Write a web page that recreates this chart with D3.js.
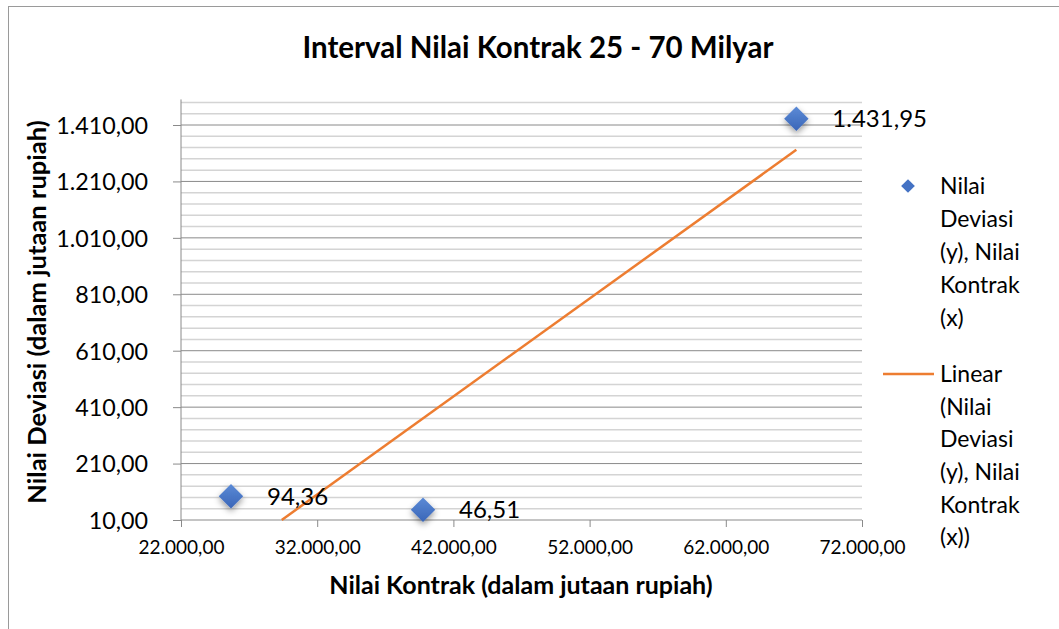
<!DOCTYPE html>
<html>
<head>
<meta charset="utf-8">
<script src="https://cdn.jsdelivr.net/npm/d3@7"></script>
<style>
  body { margin: 0; background: #fff; }
  svg { display: block; font-family: Lato, "Open Sans", sans-serif; }
</style>
</head>
<body>
<svg width="1059" height="629"></svg>
<script>
// values
var kontrak = [25670, 39770, 67180];       // x, juta rupiah
var deviasi = [94.36, 46.51, 1431.95];     // y, juta rupiah
var xTicks = [22000, 32000, 42000, 52000, 62000, 72000];
var yTicks = [10, 210, 410, 610, 810, 1010, 1210, 1410];
var yMinor = d3.range(10, 1491, 40);
var legendSeries = ["Nilai", "Deviasi", "(y), Nilai", "Kontrak", "(x)"];
var legendTrend = ["Linear", "(Nilai", "Deviasi", "(y), Nilai", "Kontrak", "(x))"];

var id = d3.formatLocale({decimal: ",", thousands: ".", grouping: [3], currency: ["Rp", ""]});
var fmt = id.format(",.2f");

var svg = d3.select("svg");

var x = d3.scaleLinear().domain([22000, 72000]).range([181, 862]);
var y = d3.scaleLinear().domain([10, 1410]).range([520, 125]);
var yTop = y(1490);

var defs = svg.append("defs");
var f = defs.append("filter").attr("id", "shadow").attr("x", "-50%").attr("y", "-50%").attr("width", "200%").attr("height", "200%");
f.append("feDropShadow").attr("dx", 0).attr("dy", 3).attr("stdDeviation", 3)
  .attr("flood-color", "#000").attr("flood-opacity", 0.4);
var grad = defs.append("linearGradient").attr("id", "dia").attr("x1", 0).attr("y1", 0).attr("x2", 0).attr("y2", 1);
grad.append("stop").attr("offset", "0%").attr("stop-color", "#5b8ad6");
grad.append("stop").attr("offset", "100%").attr("stop-color", "#3a66b8");

// chart border
svg.append("rect").attr("x", 8.5).attr("y", 6.5).attr("width", 1060).attr("height", 640)
  .attr("fill", "none").attr("stroke", "#9a9a9a");

// title
svg.append("text").attr("x", 538).attr("y", 58).attr("text-anchor", "middle")
  .attr("font-size", 29.5).attr("font-weight", "bold").attr("fill", "#000")
  .text("Interval Nilai Kontrak 25 - 70 Milyar");

// gridlines
svg.append("g").selectAll("line").data(yMinor.filter(function(d) { return yTicks.indexOf(d) < 0; }))
  .enter().append("line")
  .attr("x1", x(22000)).attr("x2", x(72000))
  .attr("y1", function(d) { return y(d); }).attr("y2", function(d) { return y(d); })
  .attr("stroke", "#d4d4d4").attr("stroke-width", 1.5);

svg.append("g").selectAll("line").data(yTicks.slice(1))
  .enter().append("line")
  .attr("x1", x(22000)).attr("x2", x(72000))
  .attr("y1", function(d) { return y(d); }).attr("y2", function(d) { return y(d); })
  .attr("stroke", "#8a8a8a").attr("stroke-width", 1);

// axes
var xAxis = svg.append("g").attr("transform", "translate(0," + y(10) + ")")
  .call(d3.axisBottom(x).tickValues(xTicks).tickFormat(fmt).tickSize(7).tickPadding(14));
var yAxis = svg.append("g").attr("transform", "translate(" + x(22000) + ",0)")
  .call(d3.axisLeft(y).tickValues(yTicks).tickFormat(fmt).tickSize(8).tickPadding(25));
yAxis.select(".domain").attr("d", "M0," + (yTop - 3) + "V" + y(10));
xAxis.select(".domain").attr("d", "M" + x(22000) + ",0H" + x(72000));
svg.selectAll(".domain").attr("stroke", "#8a8a8a");
svg.selectAll(".tick line").attr("stroke", "#8a8a8a");
xAxis.selectAll("text").attr("font-size", 19).attr("fill", "#000").attr("font-family", "Lato");
yAxis.selectAll("text").attr("font-size", 23.3).attr("fill", "#000").attr("font-family", "Lato").attr("dy", "0.36em");

// axis titles
svg.append("text").attr("x", 521).attr("y", 594).attr("text-anchor", "middle")
  .attr("font-size", 25).attr("font-weight", "bold")
  .text("Nilai Kontrak (dalam jutaan rupiah)");
svg.append("text").attr("transform", "translate(46,312) rotate(-90)").attr("text-anchor", "middle")
  .attr("font-size", 25.5).attr("font-weight", "bold")
  .text("Nilai Deviasi (dalam jutaan rupiah)");

// linear trendline (least squares), clipped to plot area
var mx = d3.mean(kontrak), my = d3.mean(deviasi);
var sxy = d3.sum(kontrak, function(d, i) { return (d - mx) * (deviasi[i] - my); });
var sxx = d3.sum(kontrak, function(d) { return (d - mx) * (d - mx); });
var slope = sxy / sxx, icpt = my - slope * mx;
var x0 = Math.max(d3.min(kontrak), (10 - icpt) / slope), x1 = d3.max(kontrak);
svg.append("line")
  .attr("x1", x(x0)).attr("y1", y(slope * x0 + icpt))
  .attr("x2", x(x1)).attr("y2", y(slope * x1 + icpt))
  .attr("stroke", "#ed7d31").attr("stroke-width", 2.5);

// points
var pts = kontrak.map(function(d, i) { return {x: d, y: deviasi[i]}; });
var diamond = d3.symbol().type(d3.symbolDiamond2).size(380);
svg.append("g").selectAll("path").data(pts).enter().append("path")
  .attr("d", diamond)
  .attr("transform", function(d) { return "translate(" + x(d.x) + "," + y(d.y) + ")"; })
  .attr("fill", "url(#dia)").attr("filter", "url(#shadow)");

svg.append("g").selectAll("text").data(pts).enter().append("text")
  .attr("x", function(d) { return x(d.x) + 36; })
  .attr("y", function(d) { return y(d.y); })
  .attr("dy", "0.36em").attr("font-size", 24)
  .text(function(d) { return fmt(d.y); });

// legend
var lg = svg.append("g");
lg.append("path").attr("d", d3.symbol().type(d3.symbolDiamond2).size(120))
  .attr("transform", "translate(908,186)").attr("fill", "#4472c4");
lg.append("text").attr("x", 940).attr("y", 186).attr("font-size", 23)
  .selectAll("tspan").data(legendSeries).enter().append("tspan")
  .attr("x", 940).attr("dy", function(d, i) { return i ? 33 : "0.36em"; }).text(function(d) { return d; });
lg.append("line").attr("x1", 883).attr("x2", 934).attr("y1", 374).attr("y2", 374)
  .attr("stroke", "#ed7d31").attr("stroke-width", 2.5);
lg.append("text").attr("x", 940).attr("y", 374).attr("font-size", 23)
  .selectAll("tspan").data(legendTrend).enter().append("tspan")
  .attr("x", 940).attr("dy", function(d, i) { return i ? 32.6 : "0.36em"; }).text(function(d) { return d; });
</script>
</body>
</html>
